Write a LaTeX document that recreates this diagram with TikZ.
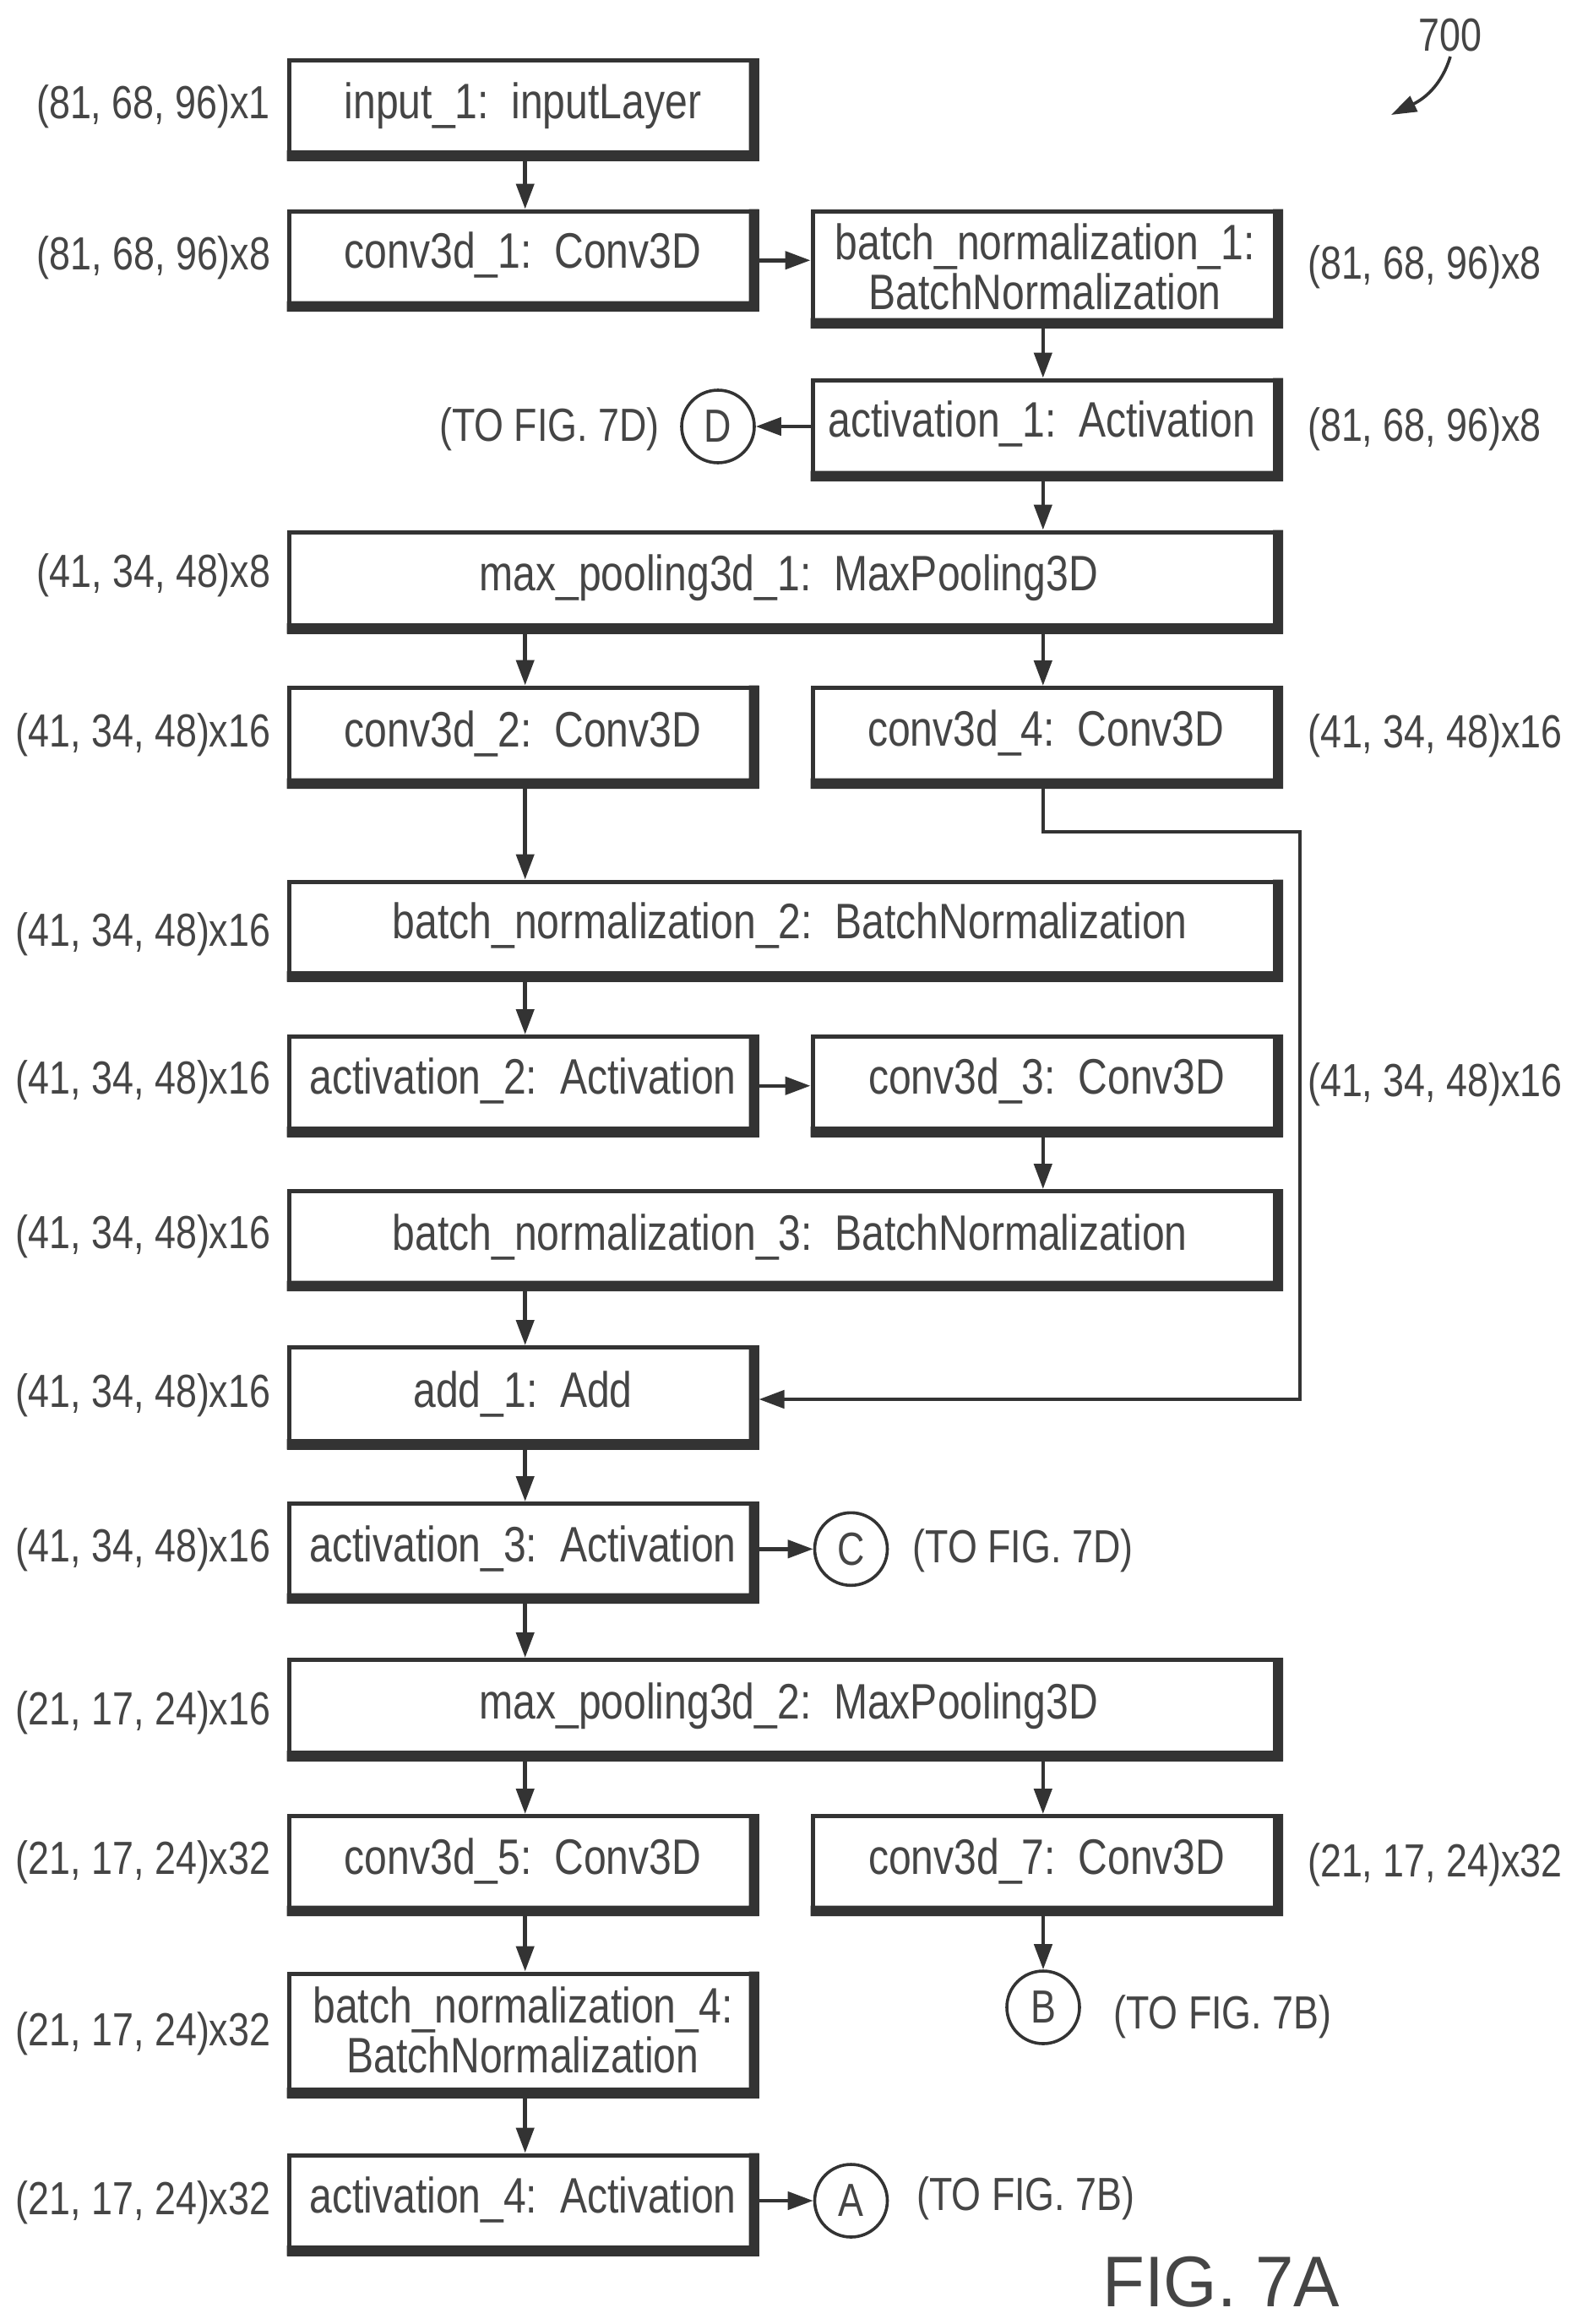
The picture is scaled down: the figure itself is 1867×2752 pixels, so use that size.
\documentclass[tikz,border=0pt]{standalone}
\usepackage{fontspec}
\setmainfont{Liberation Sans}[FakeStretch=0.815]
\newfontfamily\figfont{Liberation Sans}[FakeStretch=0.96]
\usetikzlibrary{arrows.meta,calc}
\definecolor{ink}{gray}{0.2}
\definecolor{txt}{gray}{0.27}
\tikzset{
  layer/.style={draw=ink,line width=5pt,fill=white,inner sep=0pt,text=txt,
    font=\fontsize{59}{55}\selectfont},
  heavy/.style={fill=ink,draw=none},
  dim/.style={text=txt,inner sep=0pt,font=\fontsize{55}{55}\selectfont},
  dimr/.style={dim,anchor=base east},
  diml/.style={dim,anchor=base west},
  conn/.style={draw=ink,line width=4.5pt,-{Triangle[length=30pt,width=21pt]}},
  ref/.style={draw=ink,line width=3.6pt,circle,minimum size=86pt,inner sep=0pt,text=txt,fill=white,
    font=\fontsize{55}{55}\selectfont},
  figlabel/.style={text=txt,inner sep=0pt,anchor=base west,font=\figfont\fontsize{85}{85}\selectfont}
}
\newcommand{\layerbox}[7][0]{%
  \pgfmathsetmacro{\bxc}{(#3+#4)/2}%
  \pgfmathsetmacro{\byc}{(#5+#6)/2}%
  \pgfmathsetmacro{\bw}{#4-#3-5}%
  \pgfmathsetmacro{\bh}{#6-#5-5}%
  \pgfmathsetmacro{\brs}{\byc-#7}%
  \node[layer,minimum width=\bw pt,minimum height=\bh pt] (#2) at (\bxc,\byc)
    {\hspace*{#1pt}\raisebox{\brs pt}[0pt][0pt]{\begin{tabular}[t]{@{}c@{}}\boxtext\end{tabular}}};
  \fill[heavy] (#2.north east) -- (#2.south east) -- (#2.south west) -- ++(0,-12.5)
    -- ($(#2.south east)+(-12,-12.5)$) -- ($(#2.north east)+(-12,0)$) -- cycle;
}
\begin{document}
\begin{tikzpicture}[x=1pt,y=-1pt]
\useasboundingbox (0,0) rectangle (1867,2752);
\fill[white] (0,0) rectangle (1867,2752);
\def\boxtext{input\_1:\ \ inputLayer}\layerbox{input}{339.5}{898.5}{69}{190.5}{140}
\def\boxtext{conv3d\_1:\ \ Conv3D}\layerbox{convA}{339.5}{898.5}{247.5}{369}{317.5}
\def\boxtext{batch\_normalization\_1:\\BatchNormalization}\layerbox[-4]{batchA}{959.5}{1519}{247.5}{389}{307.5}
\def\boxtext{activation\_1:\ \ Activation}\layerbox[-12]{actA}{959.5}{1519}{447.5}{570}{517.5}
\def\boxtext{max\_pooling3d\_1:\ \ MaxPooling3D}\layerbox[9]{maxA}{339.5}{1519}{627.5}{750.5}{699}
\def\boxtext{conv3d\_2:\ \ Conv3D}\layerbox{convB}{339.5}{898.5}{811.5}{934}{884}
\def\boxtext{conv3d\_4:\ \ Conv3D}\layerbox[-2]{convD}{959.5}{1519}{812}{934}{883}
\def\boxtext{batch\_normalization\_2:\ \ BatchNormalization}\layerbox[12]{batchB}{339.5}{1519}{1041.5}{1162.5}{1111.5}
\def\boxtext{activation\_2:\ \ Activation}\layerbox{actB}{339.5}{898.5}{1225}{1346.5}{1295}
\def\boxtext{conv3d\_3:\ \ Conv3D}\layerbox{convC}{959.5}{1519}{1225}{1346.5}{1295}
\def\boxtext{batch\_normalization\_3:\ \ BatchNormalization}\layerbox[12]{batchC}{339.5}{1519}{1408}{1529}{1480}
\def\boxtext{add\_1:\ \ Add}\layerbox{addA}{339.5}{898.5}{1593}{1716.5}{1666.5}
\def\boxtext{activation\_3:\ \ Activation}\layerbox{actC}{339.5}{898.5}{1778}{1899}{1849}
\def\boxtext{max\_pooling3d\_2:\ \ MaxPooling3D}\layerbox[9]{maxB}{339.5}{1519}{1963}{2085.5}{2035.5}
\def\boxtext{conv3d\_5:\ \ Conv3D}\layerbox{convE}{339.5}{898.5}{2148}{2269}{2219}
\def\boxtext{conv3d\_7:\ \ Conv3D}\layerbox{convG}{959.5}{1519}{2148}{2269}{2219}
\def\boxtext{batch\_normalization\_4:\\BatchNormalization}\layerbox{batchD}{339.5}{898.5}{2334.5}{2484.5}{2395}
\def\boxtext{activation\_4:\ \ Activation}\layerbox{actD}{339.5}{898.5}{2549.5}{2671.5}{2620}

\node[ref] (refD) at (850,505) {D};
\node[ref] (refC) at (1007.5,1834.3) {C};
\node[ref] (refB) at (1235,2377) {B};
\node[ref] (refA) at (1007.5,2606) {A};

\coordinate (axL) at (621.7,0);
\coordinate (axR) at (1234.8,0);
\coordinate (bendA) at (1539,985);
\coordinate (bendB) at (1539,1657);

\draw[conn] (input.south -| axL) -- (convA.north -| axL);
\draw[conn] (convA.east) -- (convA.east -| batchA.west);
\draw[conn] (batchA.south -| axR) -- (actA.north -| axR);
\draw[conn] (actA.west |- refD.east) -- (refD.east);
\draw[conn] (actA.south -| axR) -- (maxA.north -| axR);
\draw[conn] (maxA.south -| axL) -- (convB.north -| axL);
\draw[conn] (maxA.south -| axR) -- (convD.north -| axR);
\draw[conn] (convB.south -| axL) -- (batchB.north -| axL);
\draw[conn,line join=miter] (convD.south -| axR) |- (bendA) -- (bendB) -- (bendB -| addA.east);
\draw[conn] (batchB.south -| axL) -- (actB.north -| axL);
\draw[conn] (actB.east) -- (convC.west);
\draw[conn] (convC.south -| axR) -- (batchC.north -| axR);
\draw[conn] (batchC.south -| axL) -- (addA.north -| axL);
\draw[conn] (addA.south -| axL) -- (actC.north -| axL);
\draw[conn] (actC.east |- refC.west) -- (refC.west);
\draw[conn] (actC.south -| axL) -- (maxB.north -| axL);
\draw[conn] (maxB.south -| axL) -- (convE.north -| axL);
\draw[conn] (maxB.south -| axR) -- (convG.north -| axR);
\draw[conn] (convE.south -| axL) -- (batchD.north -| axL);
\draw[conn] (batchD.south -| axL) -- (actD.north -| axL);
\draw[conn] (convG.south -| refB.north) -- (refB.north);
\draw[conn] (actD.east |- refA.west) -- (refA.west);

\node[dimr] (d1) at (320,140.6) {(81, 68, 96)x1};
\node[dimr] (d2) at (320.5,319) {(81, 68, 96)x8};
\node[dimr] (d3) at (320.5,695) {(41, 34, 48)x8};
\node[dimr] (d4) at (320.5,884) {(41, 34, 48)x16};
\node[dimr] (d5) at (320.5,1120) {(41, 34, 48)x16};
\node[dimr] (d6) at (320.5,1295) {(41, 34, 48)x16};
\node[dimr] (d7) at (320.5,1478) {(41, 34, 48)x16};
\node[dimr] (d8) at (320.5,1666.5) {(41, 34, 48)x16};
\node[dimr] (d9) at (320.5,1849) {(41, 34, 48)x16};
\node[dimr] (d10) at (320.5,2042) {(21, 17, 24)x16};
\node[dimr] (d11) at (320.5,2219) {(21, 17, 24)x32};
\node[dimr] (d12) at (320.5,2422) {(21, 17, 24)x32};
\node[dimr] (d13) at (320.5,2622) {(21, 17, 24)x32};
\node[diml] (d14) at (1548,330) {(81, 68, 96)x8};
\node[diml] (d15) at (1548,522) {(81, 68, 96)x8};
\node[diml] (d16) at (1548,885) {(41, 34, 48)x16};
\node[diml] (d17) at (1548,1298) {(41, 34, 48)x16};
\node[diml] (d18) at (1548,2222) {(21, 17, 24)x32};

\node[dimr] (n1) at (781,522.5) {(TO FIG. 7D)};
\node[diml] (n2) at (1080.6,1850.7) {(TO FIG. 7D)};
\node[diml] (n3) at (1318,2402) {(TO FIG. 7B)};
\node[diml] (n4) at (1085,2617) {(TO FIG. 7B)};

\node[diml] (num) at (1679,60) {700};
\coordinate (curveA) at (1717,67);
\coordinate (curveB) at (1647,136);
\draw[draw=ink,line width=3.6pt,-{Triangle[length=30pt,width=20pt]}] (curveA) .. controls (1708,97) and (1690,115) .. (curveB);
\node[figlabel] (fig) at (1305,2731) {FIG. 7A};
\end{tikzpicture}
\end{document}
